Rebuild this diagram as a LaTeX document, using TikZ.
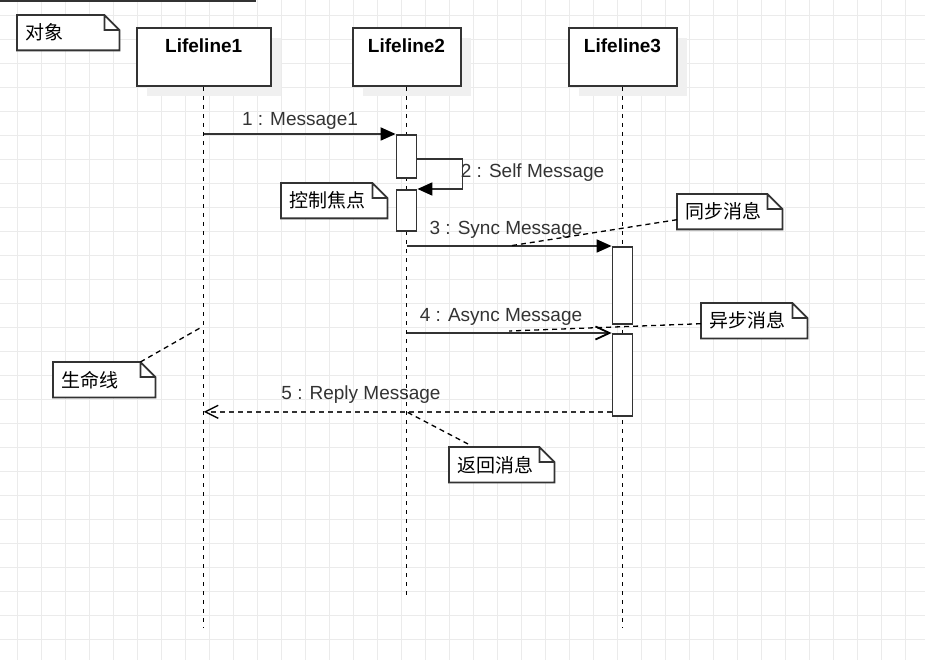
\documentclass[tikz,border=0pt]{standalone}
\usepackage{fontspec}
\setmainfont{Liberation Sans}
\newfontfamily\cjk{Noto Sans CJK SC}
\usetikzlibrary{arrows.meta,calc,shadows}
\pgfdeclarelayer{bg}
\pgfsetlayers{bg,main}
\definecolor{ink}{HTML}{333333}
\definecolor{gridgray}{HTML}{EBEBEB}
\tikzset{
  gridline/.style={gridgray, line width=1pt},
  lifeline/.style={draw=ink, line width=2pt, fill=white, anchor=north,
    font=\fontsize{19}{23}\selectfont\bfseries, text=black,
    text height=16pt, text depth=24.6pt, inner ysep=8.7pt,
    drop shadow={shadow xshift=10pt, shadow yshift=-10pt, fill=black!6, opacity=1}},
  lifedash/.style={black, line width=1.3pt, dash pattern=on 4pt off 5pt},
  activation/.style={draw=ink, line width=1.8pt, fill=white, minimum width=20pt,
    anchor=north, inner sep=0pt},
  msg/.style={draw=ink, line width=1.8pt, -{Triangle[length=15pt,width=13pt,color=black]}},
  asyncmsg/.style={draw=ink, line width=1.8pt, -{Straight Barb[length=14pt,width=13pt,color=black]}},
  replymsg/.style={draw=ink, line width=1.4pt, dash pattern=on 5pt off 4pt,
    -{Straight Barb[length=13pt,width=13pt,color=black]}},
  msglabel/.style={font=\fontsize{19}{23}\selectfont, text=ink, anchor=base, inner sep=0pt},
  umlnote/.style={anchor=north west, text width=#1, inner xsep=8pt, inner ysep=0pt,
    minimum height=35pt, align=left, text=black, font=\cjk\fontsize{19}{23}\selectfont},
  notelink/.style={black, line width=1.3pt, dash pattern=on 5pt off 4pt}
}
% outline of a note with its folded corner
\newcommand{\notefold}[1]{%
  \begin{pgfonlayer}{bg}
    \fill[white] (#1.north west) -- ([xshift=-15pt]#1.north east)
      -- ([yshift=-15pt]#1.north east) -- (#1.south east) -- (#1.south west) -- cycle;
  \end{pgfonlayer}
  \draw[ink, line width=1.8pt] (#1.north west) -- ([xshift=-15pt]#1.north east)
    -- ([yshift=-15pt]#1.north east) -- (#1.south east) -- (#1.south west) -- cycle
    ([xshift=-15pt]#1.north east) |- ([yshift=-15pt]#1.north east);
}
\begin{document}
\begin{tikzpicture}[x=1pt, y=-1pt]
  \useasboundingbox (0,0) rectangle (925,660);
  % background grid
  \begin{pgfonlayer}{bg}
    \fill[white] (0,0) rectangle (925,660);
    \foreach \gx in {0,...,37}
      \draw[gridline] (17.7+24*\gx,0) -- ++(0,660);
    \foreach \gy in {0,...,26}
      \draw[gridline] (0,15.3+24*\gy) -- ++(925,0);
  \end{pgfonlayer}
  \draw[ink, line width=2pt] (0,1) -- (256,1);

  % lifelines
  \node[lifeline, minimum width=134pt] (L1) at (203.7,27) {Lifeline1};
  \node[lifeline, minimum width=108pt] (L2) at (406.5,27) {Lifeline2};
  \node[lifeline, minimum width=108pt] (L3) at (622.5,27) {Lifeline3};
  \coordinate (L1end) at (L1.south |- 0,628);
  \coordinate (L2end) at (L2.south |- 0,595);
  \coordinate (L3end) at (L3.south |- 0,628);
  \draw[lifedash] (L1.south) -- (L1end);
  \draw[lifedash] (L2.south) -- (L2end);
  \draw[lifedash] (L3.south) -- (L3end);

  % activations
  \node[activation, minimum height=43pt] (A2a) at (L2.south |- 0,134) {};
  \node[activation, minimum height=41pt] (A2b) at (L2.south |- 0,189) {};
  \node[activation, minimum height=77pt] (A3a) at (L3.south |- 0,246) {};
  \node[activation, minimum height=82pt] (A3b) at (L3.south |- 0,333) {};

  % messages
  \draw[msg] (L1.south |- A2a.north) -- (A2a.north west);
  \node[msglabel] (m1) at (300,126) {1 : Message1};
  \draw[msg] ([yshift=-2.5pt]A2a.east) -- ++(45,0) |- (A2b.north east);
  \node[msglabel] (m2) at (532.5,177.7) {2 : Self Message};
  \draw[msg] (L2.south |- A3a.north) -- (A3a.north west);
  \node[msglabel] (m3) at (506,234.3) {3 : Sync Message};
  \draw[asyncmsg] (L2.south |- A3b.north) -- (A3b.north west);
  \node[msglabel] (m4) at (501,321) {4 : Async Message};
  \coordinate (replyend) at ([yshift=5pt]A3b.south west);
  \draw[replymsg] (replyend) -- (L1.south |- replyend);
  \node[msglabel] (m5) at (361,399.3) {5 : Reply Message};

  % notes
  \node[umlnote=86pt] (nobj) at (17,15) {对象};
  \notefold{nobj}
  \node[umlnote=90pt] (nfocus) at (281,183) {控制焦点};
  \notefold{nfocus}
  \node[umlnote=89pt] (nsync) at (677,194) {同步消息};
  \notefold{nsync}
  \node[umlnote=90pt] (nasync) at (701,303) {异步消息};
  \notefold{nasync}
  \node[umlnote=86pt] (nlife) at (53,362) {生命线};
  \notefold{nlife}
  \node[umlnote=89pt] (nreply) at (449,447) {返回消息};
  \notefold{nreply}

  % note links
  \coordinate (syncpt) at ($(L2.south |- A3a.north)!0.5!(A3a.north west)$);
  \coordinate (asyncpt) at ([yshift=2pt]$(L2.south |- A3b.north)!0.5!(A3b.north west)$);
  \coordinate (lifept) at (200,328);
  \coordinate (replypt) at (L2.south |- replyend);
  \draw[notelink] ([yshift=-8pt]nsync.west) -- (syncpt);
  \draw[notelink] ([yshift=-3pt]nasync.west) -- (asyncpt);
  \draw[notelink] ([xshift=-15pt]nlife.north east) -- (lifept);
  \draw[notelink] ([xshift=19pt,yshift=3pt]nreply.north west) -- (replypt);
\end{tikzpicture}
\end{document}
